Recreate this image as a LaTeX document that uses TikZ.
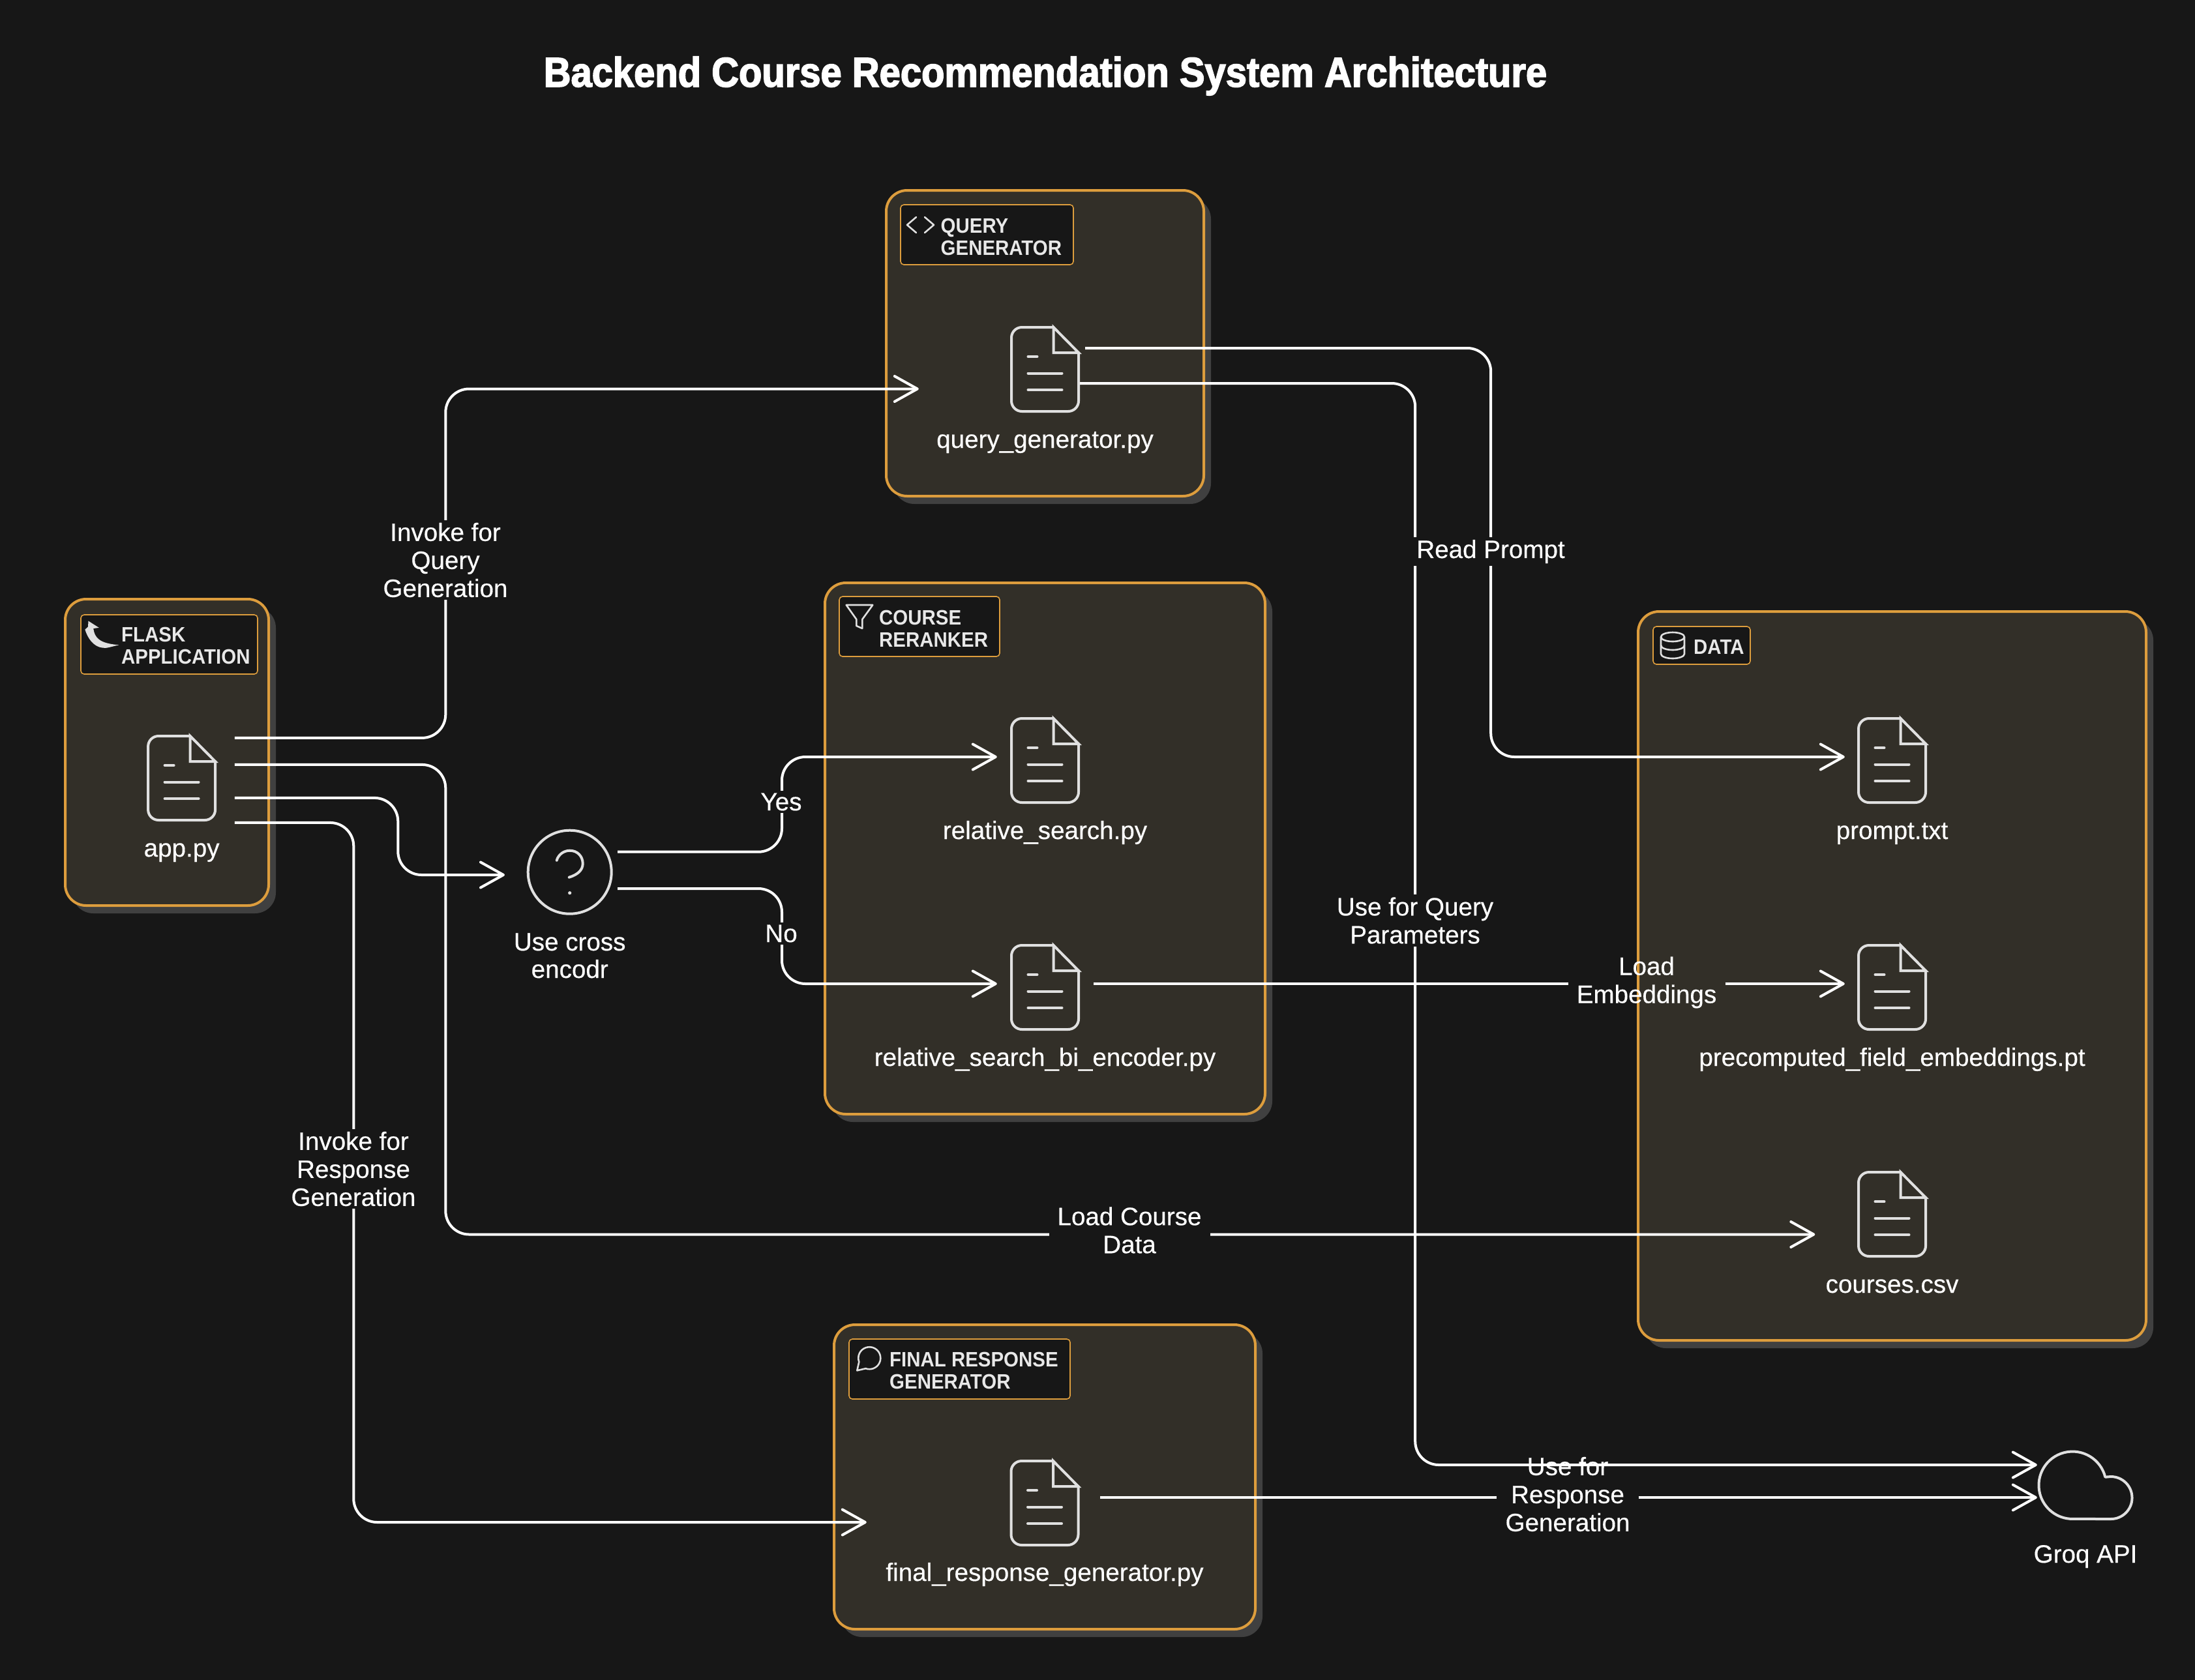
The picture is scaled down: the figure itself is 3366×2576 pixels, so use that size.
\documentclass[tikz,border=0pt]{standalone}
\usepackage{fontspec}
\setmainfont{Liberation Sans}[FakeBold=0.4]
\newfontfamily\grpfamily[FakeStretch=0.92]{Liberation Sans Bold}
\newfontfamily\titlefamily[FakeStretch=0.905,FakeBold=2.5]{Liberation Sans Bold}
\usetikzlibrary{arrows.meta,calc}
\definecolor{bgc}{HTML}{171717}
\definecolor{boxfill}{HTML}{322F28}
\definecolor{boxedge}{HTML}{DD9D3D}
\definecolor{shadowc}{HTML}{404040}
\definecolor{iconc}{HTML}{E0E0E0}
\definecolor{grptext}{HTML}{E8E8E8}
\tikzset{
  x=1pt,y=-1pt,
  groupframe/.style={draw=boxedge,fill=boxfill,line width=4pt,rounded corners=32pt,inner sep=0pt},
  groupshade/.style={fill=shadowc,rounded corners=32pt,inner sep=0pt},
  tagframe/.style={draw=boxedge,fill=bgc,line width=1.6pt,rounded corners=5pt,inner sep=0pt},
  tagtext/.style={anchor=base west,align=left,text=grptext,inner sep=0pt,font=\grpfamily\fontsize{32}{34}\selectfont},
  iconline/.style={draw=iconc,line width=4pt,line cap=round,line join=round},
  thinicon/.style={draw=iconc,line width=2.6pt,line join=round,line cap=round},
  iconbox/.style={minimum width=103pt,minimum height=129pt,inner sep=0pt},
  filename/.style={anchor=base,text=white,inner sep=0pt,align=center,font=\fontsize{38.6}{42}\selectfont},
  openlabel/.style={text=white,align=center,inner xsep=13pt,inner ysep=4pt,font=\fontsize{38.6}{43}\selectfont},
  edgelabel/.style={openlabel,fill=bgc},
  wire/.style={draw=white,line width=4pt,rounded corners=36pt},
  conn/.style={wire,-{Straight Barb[length=35pt,width=39pt,round]}},
}
\newcommand\groupbox[5]{%
  \pgfmathsetmacro\gx{(#2+#4)/2}\pgfmathsetmacro\gy{(#3+#5)/2}%
  \pgfmathsetmacro\gw{#4-#2}\pgfmathsetmacro\gh{#5-#3}%
  \node[groupshade,minimum width=\gw pt,minimum height=\gh pt] (#1shade) at (\gx+11,\gy+12) {};
  \node[groupframe,minimum width=\gw pt,minimum height=\gh pt] (#1) at (\gx,\gy) {};
}
\newcommand\tagbox[5]{%
  \pgfmathsetmacro\gx{(#2+#4)/2}\pgfmathsetmacro\gy{(#3+#5)/2}%
  \pgfmathsetmacro\gw{#4-#2}\pgfmathsetmacro\gh{#5-#3}%
  \node[tagframe,minimum width=\gw pt,minimum height=\gh pt] (#1) at (\gx,\gy) {};
}
% name, centre x, top y
\newcommand\fileicon[3]{%
  \node[iconbox] (#1) at (#2,#3+64.5) {};
  \begin{scope}[shift={(#2,#3)}]
    \draw[iconline,rounded corners=16pt] (51.5,39) -- (51.5,129) -- (-51.5,129) -- (-51.5,0) -- (13,0);
    \draw[iconline,line join=miter] (13,0) -- (51.5,39) -- (13,39) -- cycle;
    \draw[iconline] (-26,45) -- (-12,45);
    \draw[iconline] (-26,70.5) -- (26,70.5);
    \draw[iconline] (-26,96) -- (26,96);
  \end{scope}
}
\begin{document}
\begin{tikzpicture}
\useasboundingbox (0,0) rectangle (3366,2576);
\fill[bgc] (-6,-6) rectangle (3372,2582);

\node[anchor=base,text=white,inner sep=0pt,font=\titlefamily\fontsize{64}{70}\selectfont] (title) at (1603,133) {Backend Course Recommendation System Architecture};

% groups
\groupbox{flask}{100}{919}{412}{1389}
\groupbox{qgroup}{1359}{292}{1846}{761}
\groupbox{rgroup}{1265}{894}{1940}{1709}
\groupbox{dgroup}{2512}{938}{3291}{2056}
\groupbox{fgroup}{1279}{2032}{1925}{2499}

% group tags
\tagbox{flasktag}{124}{943}{395}{1034}
\node[tagtext] (flasktext) at (186,1018.6) {FLASK\\APPLICATION};
\fill[iconc] (135.5,952.5) -- (151.8,962.9) -- (143.2,964) .. controls (145,978) and (152,987) .. (182.4,989.3) .. controls (170,992) and (163,995) .. (157,993.6) .. controls (143,992) and (134,978) .. (130.4,965.7) -- (135,961.4) -- cycle;

\tagbox{qtag}{1381}{314}{1646}{406}
\node[tagtext] (qtext) at (1442.5,391) {QUERY\\GENERATOR};
\draw[thinicon] (1405,333) -- (1391,345) -- (1405,357);
\draw[thinicon] (1418,333) -- (1432,345) -- (1418,357);

\tagbox{rtag}{1287}{915}{1533}{1007}
\node[tagtext] (rtext) at (1348,992) {COURSE\\RERANKER};
\draw[thinicon] (1297.7,928) -- (1338.3,928) -- (1322.3,950) -- (1322.3,964) -- (1313.3,960) -- (1313.3,950) -- cycle;

\tagbox{dtag}{2535}{961}{2684}{1019}
\node[tagtext] (dtext) at (2597,1003) {DATA};
\draw[thinicon] (2565,977) ellipse [x radius=18,y radius=7];
\draw[thinicon] (2547,977) -- (2547,1003) arc[start angle=180,end angle=0,x radius=18,y radius=7] -- (2583,977);
\draw[thinicon] (2583,990) arc[start angle=0,end angle=180,x radius=18,y radius=7];

\tagbox{ftag}{1302}{2054}{1641}{2146}
\node[tagtext] (ftext) at (1364,2130) {FINAL RESPONSE\\GENERATOR};
\draw[thinicon] (1317.3,2089) arc[start angle=160,end angle=470,radius=17] -- (1314.3,2102.3) -- cycle;

% file icons and names
\fileicon{app}{278.6}{1129}
\node[filename] (appname) at (278.6,1314) {app.py};
\fileicon{qg}{1602.5}{502}
\node[filename] (qgname) at (1602.5,687) {query\_generator.py};
\fileicon{rs}{1602.5}{1102}
\node[filename] (rsname) at (1602.5,1287) {relative\_search.py};
\fileicon{rb}{1602.5}{1450}
\node[filename] (rbname) at (1602.5,1635) {relative\_search\_bi\_encoder.py};
\fileicon{fr}{1602}{2241}
\node[filename] (frname) at (1602,2425) {final\_response\_generator.py};
\fileicon{pr}{2901.5}{1102}
\node[filename] (prname) at (2901.5,1287) {prompt.txt};
\fileicon{pc}{2901.5}{1450}
\node[filename] (pcname) at (2901.5,1635) {precomputed\_field\_embeddings.pt};
\fileicon{cs}{2901.5}{1798}
\node[filename] (csname) at (2901.5,1983) {courses.csv};

% decision
\node[circle,draw=iconc,line width=4pt,minimum size=128pt,inner sep=0pt] (cross) at (873.7,1337.7) {};
\begin{scope}[shift={(873.7,1337.7)}]
  \draw[iconline] (-20,-18) .. controls (-17,-28) and (-8,-33) .. (0,-33) .. controls (12,-33) and (20,-24) .. (20,-13) .. controls (20,-3) and (12,4) .. (-1,8);
  \fill[iconc] (0,32) circle[radius=2.6];
\end{scope}
\node[filename] (crossname) at (873.7,1500) {Use cross\\encodr};

% cloud
\node[minimum width=142pt,minimum height=104pt,inner sep=0pt] (groq) at (3197,2278) {};
\draw[iconline] (3228.3,2265.7) arc[start angle=-14,end angle=-270,radius=51.7] -- (3237,2330) arc[start angle=90,end angle=-90,radius=32.5] -- cycle;
\node[filename] (groqname) at (3198,2397) {Groq API};

% labels with a see-through background, their connector is cut around them
\node[openlabel] (lresp) at (2404,2292) {Use for\\Response\\Generation};
\node[openlabel] (lemb) at (2525,1507) {Load\\Embeddings};

% connectors
\draw[conn] ([shift={(29.5,-61.6)}]app.east) -- ++(323.5,0) |- ([shift={(-142,30)}]qg.west);
\draw[conn] ([shift={(29.5,-20.6)}]app.east) -- ++(323.5,0) |- ([shift={(-66.5,31)}]cs.west);
\draw[conn] ([shift={(29.5,30.4)}]app.east) -- ++(250.5,0) |- ([shift={(-33.7,4.3)}]cross.west);
\draw[conn] ([shift={(29.5,68.4)}]app.east) -- ++(182.5,0) |- ([shift={(-221.5,29.5)}]fr.west);
\draw[conn] ([shift={(7.3,-31)}]cross.east) -- ++(252,0) |- ([shift={(-22,-5.5)}]rs.west);
\draw[conn] ([shift={(7.3,25.3)}]cross.east) -- ++(252,0) |- ([shift={(-22,-5.5)}]rb.west);
\draw[conn] ([shift={(10,-32.5)}]qg.east) -- ++(622,0) |- ([shift={(-21,-5.5)}]pr.west);
\draw[conn] ([shift={(2,21.5)}]qg.east) -- ++(514,0) |- ([shift={(-2,-31)}]groq.west);
\coordinate (rbout) at ([shift={(23,-5.5)}]rb.east);
\draw[wire] (rbout) -- (rbout -| lemb.west);
\draw[conn] (rbout -| lemb.east) -- ([shift={(-21,-5.5)}]pc.west);
\coordinate (frout) at ([shift={(33.5,-8.5)}]fr.east);
\draw[wire] (frout) -- (frout -| lresp.west);
\draw[conn] (frout -| lresp.east) -- ([shift={(-2,19)}]groq.west);

% labels
\node[edgelabel] (linvq) at (683,859) {Invoke for\\Query\\Generation};
\node[edgelabel] (lload) at (1732,1887) {Load Course\\Data};
\node[edgelabel] (linvr) at (542,1793) {Invoke for\\Response\\Generation};
\node[edgelabel] (lpar) at (2170,1412) {Use for Query\\Parameters};
\node[edgelabel] (lread) at (2286,846) {Read Prompt};
\node[edgelabel] (lyes) at (1198,1230) {Yes};
\node[edgelabel] (lno) at (1198,1432) {No};
\end{tikzpicture}
\end{document}
